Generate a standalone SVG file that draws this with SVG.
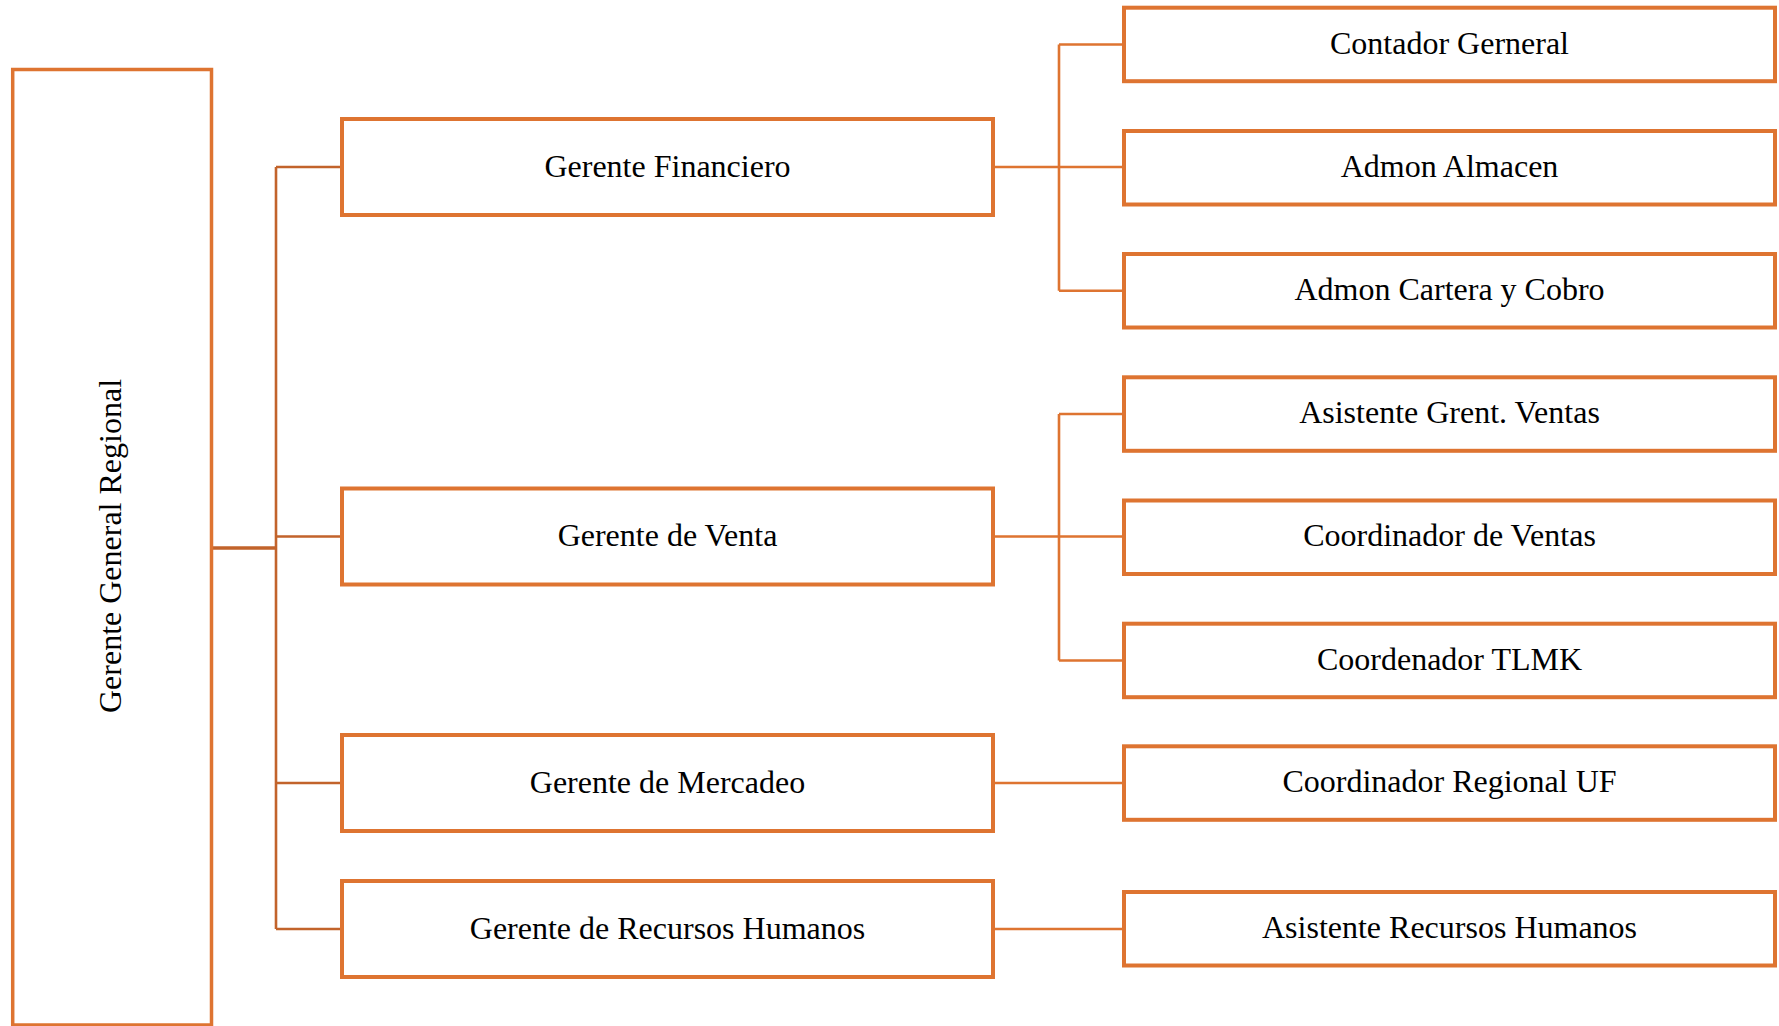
<svg xmlns="http://www.w3.org/2000/svg" width="1779" height="1026" viewBox="0 0 1779 1026">
<style>
.box{fill:#fff;stroke:#DE7431;stroke-width:4}
.big{fill:#fff;stroke:#DE7431;stroke-width:3.5}
.lbl{font-family:"Liberation Serif","Times New Roman",serif;font-size:32px;fill:#000;text-anchor:middle}
.c1{fill:none;stroke:#C2632B;stroke-width:2.6}
.c2{fill:none;stroke:#DE7431;stroke-width:2.6}
</style>
<rect width="1779" height="1026" fill="#fff"/>
<g id="connectors">
<path class="c1" d="M211 548H276" style="stroke-width:3.3"/>
<path class="c1" d="M276 167V929M276 167H342M276 536.5H342M276 783H342M276 929H342"/>
<path class="c2" d="M993 167H1124M1059 44.5V290.7M1059 44.5H1124M1059 290.7H1124"/>
<path class="c2" d="M993 536.5H1124M1059 414V660.5M1059 414H1124M1059 660.5H1124"/>
<path class="c2" d="M993 783H1124"/>
<path class="c2" d="M993 929H1124"/>
</g>
<g id="n-gerente-general">
<rect class="big" x="12.7" y="69.5" width="198.8" height="955.5"/>
<text class="lbl" transform="translate(121,546) rotate(-90)">Gerente General Regional</text>
</g>
<g id="n-financiero">
<rect class="box" x="342" y="119" width="651" height="96"/>
<text class="lbl" x="667.5" y="176.5">Gerente Financiero</text>
</g>
<g id="n-venta">
<rect class="box" x="342" y="488.5" width="651" height="96"/>
<text class="lbl" x="667.5" y="546">Gerente de Venta</text>
</g>
<g id="n-mercadeo">
<rect class="box" x="342" y="735" width="651" height="96"/>
<text class="lbl" x="667.5" y="792.5">Gerente de Mercadeo</text>
</g>
<g id="n-rrhh">
<rect class="box" x="342" y="881" width="651" height="96"/>
<text class="lbl" x="667.5" y="938.5">Gerente de Recursos Humanos</text>
</g>
<g id="n-contador">
<rect class="box" x="1124" y="7.7" width="651" height="73.5"/>
<text class="lbl" x="1449.5" y="53.5">Contador Gerneral</text>
</g>
<g id="n-almacen">
<rect class="box" x="1124" y="131" width="651" height="73.5"/>
<text class="lbl" x="1449.5" y="176.5">Admon Almacen</text>
</g>
<g id="n-cartera">
<rect class="box" x="1124" y="254" width="651" height="73.5"/>
<text class="lbl" x="1449.5" y="299.5">Admon Cartera y Cobro</text>
</g>
<g id="n-asistente-ventas">
<rect class="box" x="1124" y="377.3" width="651" height="73.5"/>
<text class="lbl" x="1449.5" y="423">Asistente Grent. Ventas</text>
</g>
<g id="n-coord-ventas">
<rect class="box" x="1124" y="500.5" width="651" height="73.5"/>
<text class="lbl" x="1449.5" y="546">Coordinador de Ventas</text>
</g>
<g id="n-tlmk">
<rect class="box" x="1124" y="623.7" width="651" height="73.5"/>
<text class="lbl" x="1449.5" y="669.5">Coordenador TLMK</text>
</g>
<g id="n-coord-regional">
<rect class="box" x="1124" y="746.3" width="651" height="73.5"/>
<text class="lbl" x="1449.5" y="792">Coordinador Regional UF</text>
</g>
<g id="n-asist-rrhh">
<rect class="box" x="1124" y="892" width="651" height="73.5"/>
<text class="lbl" x="1449.5" y="938">Asistente Recursos Humanos</text>
</g>
</svg>
